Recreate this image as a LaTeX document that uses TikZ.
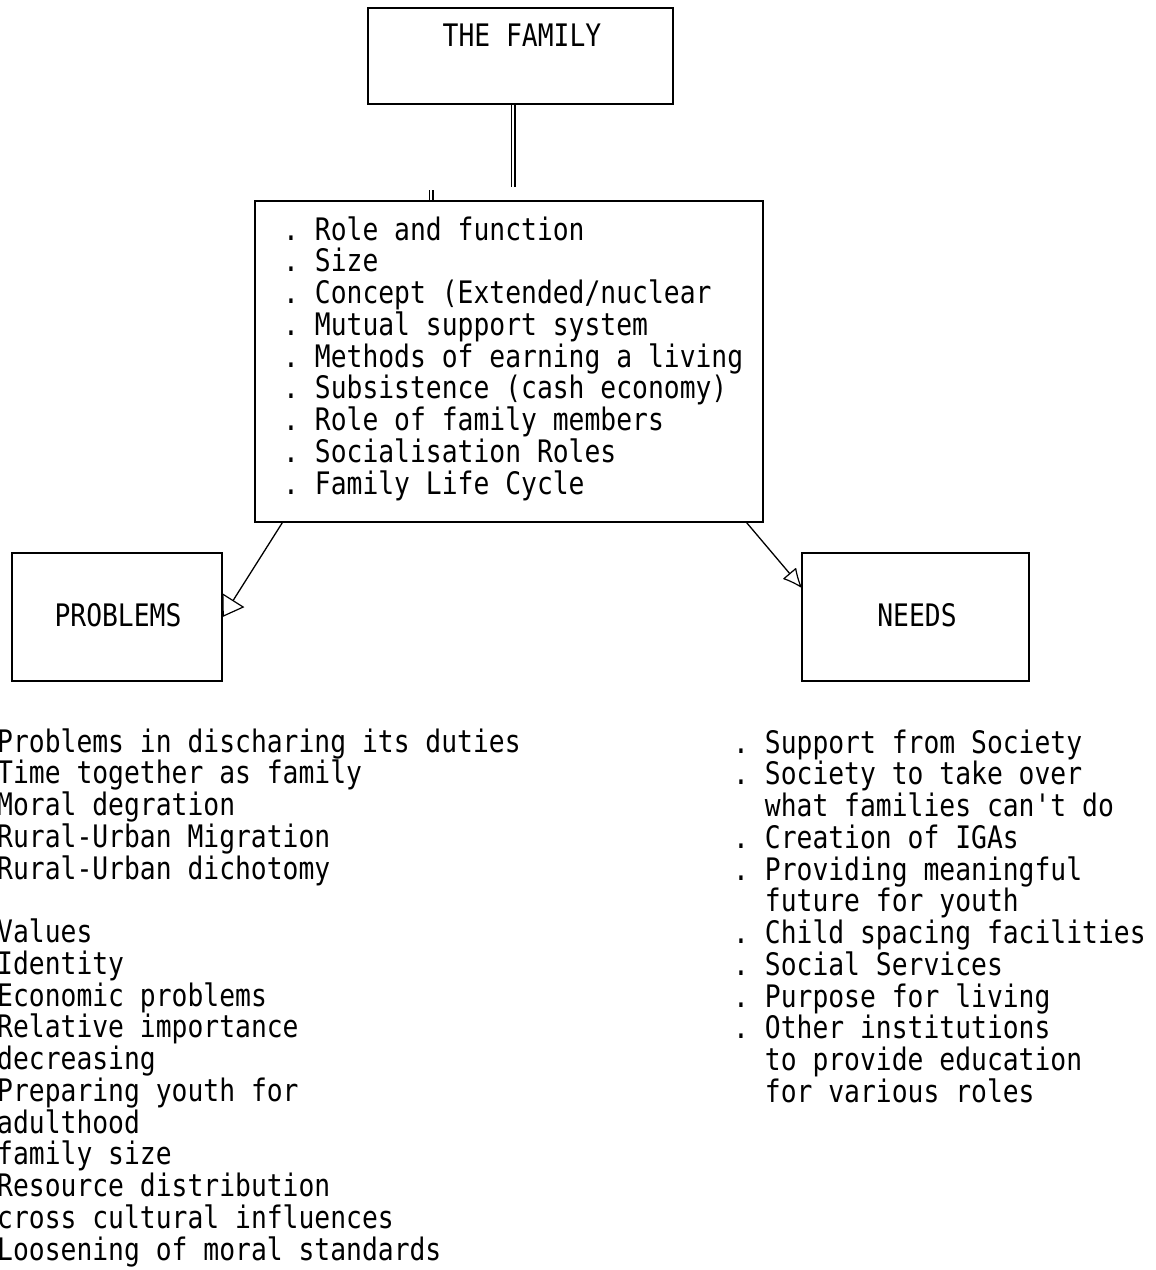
\documentclass[tikz,border=0pt]{standalone}
\usepackage{fontspec}
\usetikzlibrary{arrows.meta,calc}
% monospaced sans lettering, narrowed like pen-plotter type
\newfontfamily\plotfont{DejaVu Sans Mono}[FakeStretch=0.85]
\begin{document}
\begin{tikzpicture}[x=1pt,y=-1pt,
  box/.style={draw,line width=1.3pt,inner sep=0pt,rectangle},
  lettering/.style={font=\plotfont\fontsize{31}{32}\selectfont,inner sep=0pt},
  listline/.style={lettering,anchor=base west},
  link/.style={line width=1.3pt},
  pipe/.style={double,double distance=2.8pt,line width=1.1pt}]
\fill[white] (0,0) rectangle (1156,1270);
\useasboundingbox (0,0) rectangle (1156,1270);

% top box
\node[box,minimum width=305pt,minimum height=96pt] (fam) at (520.5,56) {};
\node[lettering] (famtext) at (522,35) {THE FAMILY};

% central box with its list
\node[box,minimum width=508pt,minimum height=321pt] (main) at (509,361.5) {};
\foreach \t [count=\i] in {
  Role and function,
  Size,
  Concept (Extended/nuclear,
  Mutual support system,
  Methods of earning a living,
  Subsistence (cash economy),
  Role of family members,
  Socialisation Roles,
  Family Life Cycle}
  \node[listline] (m\i) at (283,{240+(\i-1)*31.75}) {.\ \t};

% side boxes
\node[box,minimum width=210pt,minimum height=128pt] (prob) at (117,617) {};
\node[lettering] (probtext) at (118,615) {PROBLEMS};
\node[box,minimum width=227pt,minimum height=128pt] (needs) at (915.5,617) {};
\node[lettering] (needstext) at (917,615) {NEEDS};

% connectors
\coordinate (famjoin) at (513,187);
\draw[pipe] (fam.south -| famjoin) -- (famjoin);
\coordinate (stub) at (431,190);
\draw[pipe] (stub) -- (stub |- main.north);
\draw[link,-{Triangle[open,length=20pt,width=26pt,line width=1.2pt]}]
  ($(main.south west)+(28,0)$) -- (prob.east);
\draw[link,-{Latex[open,round,length=20pt,width=18pt,line width=1.2pt]}]
  ($(main.south east)+(-17,0)$) -- ($(needs.north west)+(0,35)$);

% problems list
\foreach \t [count=\i] in {
  Problems in discharing its duties,
  Time together as family,
  Moral degration,
  Rural-Urban Migration,
  Rural-Urban dichotomy}
  \node[listline] (p\i) at (-3,{752+(\i-1)*31.75}) {\t};
\foreach \t [count=\i] in {
  Values,
  Identity,
  Economic problems,
  Relative importance,
  decreasing,
  Preparing youth for,
  adulthood,
  family size,
  Resource distribution,
  cross cultural influences,
  Loosening of moral standards}
  \node[listline] (q\i) at (-3,{942.5+(\i-1)*31.75}) {\t};

% needs list
\foreach \t [count=\i] in {
  .\ Support from Society,
  .\ Society to take over,
  \hphantom{xx}what families can't do,
  .\ Creation of IGAs,
  .\ Providing meaningful,
  \hphantom{xx}future for youth,
  .\ Child spacing facilities,
  .\ Social Services,
  .\ Purpose for living,
  .\ Other institutions,
  \hphantom{xx}to provide education,
  \hphantom{xx}for various roles}
  \node[listline] (n\i) at (733,{753+(\i-1)*31.75}) {\t};
\end{tikzpicture}
\end{document}
